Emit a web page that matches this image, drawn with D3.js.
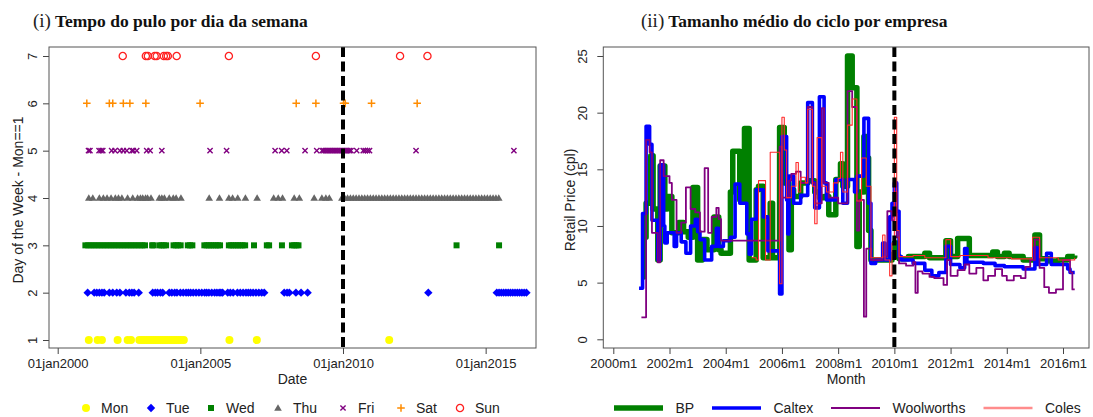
<!DOCTYPE html>
<html><head><meta charset="utf-8">
<script src="https://cdn.jsdelivr.net/npm/d3@7"></script>
<style>
body{margin:0;background:#fff}
svg{display:block;background:#fff}
text{font-family:"Liberation Sans",Arial,Helvetica,sans-serif;fill:#222}
</style></head><body>
<svg id="c" width="1093" height="417"></svg>
<script>
// ---------------- DATA: panel (i) ----------------
const dayNames = ["Mon","Tue","Wed","Thu","Fri","Sat","Sun"];
const dayTicks = [1,2,3,4,5,6,7];
const dateTicks = [2000,2005,2010,2015];
const dateTickLabels = ["01jan2000","01jan2005","01jan2010","01jan2015"];
const breakYear = 2010;

const monDates = [2001.09,2001.40,2001.55,2002.10,2002.45,2002.57,2002.86,2002.95,2003.03,2003.12,2003.20,2003.28,2003.36,2003.44,2003.52,2003.60,2003.68,2003.76,2003.84,2003.92,2004.00,2004.08,2004.16,2004.24,2004.32,2004.42,2006.02,2006.98,2011.62];
const tueDates = [2001.05,2001.28,2001.37,2001.46,2001.55,2001.63,2001.81,2001.93,2002.07,2002.18,2002.39,2002.51,2002.60,2002.68,2002.84,2003.33,2003.42,2003.50,2003.60,2003.68,2003.91,2004.00,2004.10,2004.18,2004.30,2004.40,2004.50,2004.58,2004.66,2004.75,2004.85,2004.95,2005.05,2005.15,2005.22,2005.30,2005.40,2005.50,2005.58,2005.66,2005.72,2005.78,2005.96,2006.05,2006.15,2006.30,2006.40,2006.50,2006.60,2006.68,2006.76,2006.85,2006.95,2007.05,2007.15,2007.24,2007.94,2008.04,2008.12,2008.35,2008.53,2008.76,2012.99,2015.39,2015.47,2015.55,2015.63,2015.71,2015.79,2015.87,2015.95,2016.03,2016.11,2016.19,2016.27,2016.35,2016.43];
const wedDates = [2000.97,2001.07,2001.17,2001.27,2001.37,2001.47,2001.57,2001.67,2001.77,2001.87,2001.97,2002.07,2002.17,2002.27,2002.37,2002.47,2002.57,2002.67,2002.77,2002.87,2002.97,2003.06,2003.31,2003.35,2003.56,2003.64,2003.72,2003.80,2004.06,2004.14,2004.22,2004.31,2004.56,2004.64,2004.72,2005.14,2005.22,2005.30,2005.38,2005.46,2005.54,2005.62,2005.69,2006.00,2006.08,2006.16,2006.24,2006.32,2006.40,2006.48,2006.57,2006.88,2007.33,2007.41,2007.86,2008.21,2008.29,2008.37,2008.44,2013.98,2015.47];
const thuDates = [2001.09,2001.23,2001.46,2001.60,2001.73,2001.87,2002.02,2002.13,2002.25,2002.45,2002.63,2002.80,2002.90,2002.98,2003.08,2003.15,2003.27,2003.56,2003.65,2003.74,2003.91,2004.05,2004.15,2004.32,2005.31,2005.67,2006.00,2006.13,2006.31,2006.58,2006.99,2007.57,2007.73,2007.88,2008.29,2008.47,2008.99,2009.26,2009.40,2009.52,
 2009.96,2010.06,2010.16,2010.26,2010.36,2010.46,2010.56,2010.66,2010.76,2010.86,2010.96,2011.06,2011.16,2011.26,2011.36,2011.46,2011.56,2011.66,2011.76,2011.86,2011.96,2012.06,2012.16,2012.26,2012.36,2012.46,2012.56,2012.66,2012.76,2012.86,2012.96,2013.06,2013.16,2013.26,2013.36,2013.46,2013.56,2013.66,2013.76,2013.86,2013.96,2014.06,2014.16,2014.26,2014.36,2014.46,2014.56,2014.66,2014.76,2014.86,2014.96,2015.06,2015.16,2015.26,2015.36,2015.46];
const friDates = [2001.08,2001.13,2001.45,2001.52,2001.58,2001.89,2002.01,2002.18,2002.30,2002.42,2002.60,2002.65,2002.77,2003.12,2003.24,2003.65,2005.34,2005.92,2007.62,2007.85,2008.03,2008.67,2009.08,2009.27,2009.33,2009.39,2009.45,2009.51,2009.57,2009.63,2009.69,2009.75,2009.81,2009.87,2009.93,2009.99,2010.05,2010.11,2010.17,2010.23,2010.28,2010.48,2010.71,2010.78,2010.86,2010.93,2012.56,2015.99];
const satDates = [2001.02,2001.81,2001.93,2002.30,2002.53,2003.09,2004.99,2008.36,2009.05,2010.02,2010.08,2011.00,2012.60];
const sunDates = [2002.28,2003.09,2003.16,2003.40,2003.47,2003.72,2003.80,2003.86,2004.17,2006.00,2009.05,2012.00,2012.96];

// ---------------- DATA: panel (ii) (month index: 0 = 2000m1), step changes ----------------
const monthTicks = [0,24,48,72,96,120,144,168,192];
const monthTickLabels = ["2000m1","2002m1","2004m1","2006m1","2008m1","2010m1","2012m1","2014m1","2016m1"];
const priceTicks = [0,5,10,15,20,25];
const breakMonth = 120;
const seriesNames = ["BP","Caltex","Woolworths","Coles"];

const bpSteps = [[12,5.5],[13,9.0],[14,12.0],[16,16.2],[17,11.5],[19,7.0],[20,15.3],[22,11.5],[23,12.6],[25,9.4],[28,10.3],[30,9.5],[32,9.0],[34,13.4],[36,7.0],[38,8.8],[40,7.9],[43,10.8],[45,7.9],[46,7.6],[50,13.0],[51,16.6],[54,12.3],[56,18.6],[58,7.0],[61,13.2],[62,13.5],[64,7.2],[67,12.0],[68,7.2],[71,18.7],[73,13.8],[75,7.9],[76,13.2],[77,12.6],[80,13.8],[83,14.0],[86,13.0],[88,12.5],[90,12.6],[92,11.0],[95,14.1],[97,15.5],[98,13.5],[100,25.0],[102,22.2],[104,8.2],[105,13.0],[107,17.9],[108,16.0],[109,9.6],[110,7.0],[119,7.5],[120,8.5],[121,7.3],[122,7.1],[126,7.3],[133,7.6],[135,7.2],[142,8.7],[144,7.3],[147,8.9],[152,7.4],[162,7.7],[164,7.3],[167,7.6],[169,7.3],[175,7.0],[180,9.2],[182,7.1],[186,6.9],[190,7.0],[194,7.3],[197,7.4]];
const caltexSteps = [[11,4.5],[12.5,11.1],[14,18.8],[15.5,17.2],[16.5,10.5],[19,7.0],[20,15.4],[21.5,10.0],[22,8.5],[23,9.4],[26,8.2],[27,9.4],[29,8.6],[31,7.6],[33,10.0],[35,10.6],[36,9.5],[37,8.8],[39,7.0],[42,8.2],[44,9.8],[45,8.2],[47,8.7],[50,9.0],[52,13.7],[54,12.0],[57,9.3],[58,7.5],[59,10.6],[61,13.2],[64,10.8],[66,7.8],[71,4.0],[72,17.9],[74,12.3],[74.5,9.3],[75,14.4],[77,12.0],[80,12.7],[83,20.9],[85,13.8],[86,11.6],[88,21.4],[90,13.8],[91,12.3],[95,14.1],[98,12.0],[100,14.1],[103,13.0],[104,14.4],[107,19.5],[109,12.0],[110,6.7],[112,7.0],[115,8.5],[116,7.0],[118,10.8],[119,12.0],[120,13.8],[121,11.3],[122,7.3],[123,7.0],[128,6.7],[133,6.1],[136,5.6],[139,5.9],[142,8.2],[144,6.6],[148,6.3],[150,8.0],[151,6.8],[158,6.7],[163,6.5],[167,6.4],[175,6.2],[180,8.1],[181,6.6],[185,7.6],[187,6.6],[194,6.2],[195,5.9],[197,5.9]];
const woolworthsSteps = [[12,1.94],[14,17.6],[15.5,16.5],[16.5,9.4],[19,6.8],[20,15.8],[21.5,14.4],[24,13.8],[25,12.3],[27,9.4],[29,10.3],[31,13.4],[33,11.5],[35,11.2],[37,9.5],[39,15.1],[40.5,9.4],[42,10.8],[44,11.6],[45,10.6],[46,8.7],[71,17.0],[72,12.5],[75,14.0],[76,14.6],[78,14.8],[80,13.8],[83,20.5],[85,13.8],[86,12.0],[89,20.4],[90,13.8],[92,12.5],[96,12.0],[100,21.9],[102,20.5],[104,9.6],[105,12.3],[107,2.0],[108,8.0],[110,7.0],[115,7.3],[117,11.3],[119,10.5],[120,13.0],[121,9.0],[122,6.7],[125,6.5],[128,6.8],[129,4.1],[130,6.0],[132,5.8],[135,5.5],[137,5.4],[141,4.8],[142.5,7.0],[144,5.6],[147,6.1],[150,6.6],[152,5.8],[155,6.3],[158,5.2],[160,5.6],[163,6.2],[166,5.6],[168,5.2],[171,5.6],[174,5.4],[176,6.4],[178,7.0],[180,8.8],[182,6.3],[184,4.6],[186,4.1],[189,4.4],[192,7.0],[195,5.9],[196,4.4],[197,4.4]];
const colesSteps = [[59,7.2],[61,7.0],[62,14.0],[65,7.0],[67,16.5],[71,4.9],[72,19.6],[73,16.7],[74,12.5],[76,13.5],[78,15.6],[79,13.0],[80,14.3],[82,13.8],[83,20.3],[85,13.5],[86,10.2],[87,17.8],[89,13.5],[91,13.0],[94,13.8],[96,14.2],[97,16.5],[98,13.0],[100,18.9],[102,21.2],[104,12.2],[106,16.0],[108,13.5],[110,7.2],[115,9.2],[116,7.0],[118,5.6],[119,8.5],[120,19.6],[121,9.6],[122,7.3],[128,7.4],[133,7.2],[142,8.8],[144,7.3],[148,7.4],[160,7.2],[170,7.1],[179,9.0],[182,7.2],[190,7.0],[197,7.2]];

// ---------------- DRAW ----------------
const svg = d3.select("#c");
const serif = '"Liberation Serif","Times New Roman",serif';

function title(x, roman, txt){
  const t = svg.append("text").attr("x",x).attr("y",27).style("font-family",serif);
  t.append("tspan").text(roman).style("font-size","19px").style("fill","#222");
  t.append("tspan").attr("dx",4).text(txt).style("font-size","17.5px").style("font-weight","bold").style("fill","#111");
}
title(33,"(i)","Tempo do pulo por dia da semana");
title(641,"(ii)","Tamanho médio do ciclo por empresa");

// ---- panel (i)
const L = {x0:49, x1:536, y0:47, y1:348};
const xL = d3.scaleLinear().domain([1999.695, 2016.765]).range([L.x0, L.x1]);
const yL = d3.scaleLinear().domain([1, 7]).range([340, 56]);

const gL = svg.append("g");
const axL = gL.append("g").attr("transform",`translate(0,${L.y1})`)
  .call(d3.axisBottom(xL).tickValues(dateTicks).tickFormat((d,i)=>dateTickLabels[i]).tickSize(6).tickPadding(5));
const ayL = gL.append("g").attr("transform",`translate(${L.x0},0)`)
  .call(d3.axisLeft(yL).tickValues(dayTicks).tickFormat(d3.format("d")).tickSize(6));
[axL, ayL].forEach(a=>{a.select(".domain").remove(); a.selectAll("line").attr("stroke","#444");
  a.selectAll("text").style("font-size","13px").style("font-family",'"Liberation Sans",Arial,sans-serif').attr("fill","#222");});
ayL.selectAll("text").attr("x",0).attr("y",-12).attr("dy",0).attr("transform","rotate(-90)").style("text-anchor","middle");

const markers = {
  Mon: {draw:(g)=>g.append("circle").attr("r",4).attr("fill","#ffff00")},
  Tue: {draw:(g)=>g.append("path").attr("d","M0,-4.2L4.2,0L0,4.2L-4.2,0Z").attr("fill","#0000ff")},
  Wed: {draw:(g)=>g.append("path").attr("d","M-3,-3h6v6h-6Z").attr("fill","#008000")},
  Thu: {draw:(g)=>g.append("path").attr("d","M0,-3.8L3.8,2.8L-3.8,2.8Z").attr("fill","#666666")},
  Fri: {draw:(g)=>g.append("path").attr("d","M-2.6,-2.6L2.6,2.6M-2.6,2.6L2.6,-2.6").attr("stroke","#800080").attr("stroke-width",1.4).attr("fill","none")},
  Sat: {draw:(g)=>g.append("path").attr("d","M-3.8,0H3.8M0,-3.8V3.8").attr("stroke","#ff8c00").attr("stroke-width",1.5).attr("fill","none")},
  Sun: {draw:(g)=>g.append("circle").attr("r",3.6).attr("fill","none").attr("stroke","#ff2020").attr("stroke-width",1.3)}
};
const dayData = [monDates,tueDates,wedDates,thuDates,friDates,satDates,sunDates];
dayData.forEach((arr,i)=>{
  const name = dayNames[i];
  arr.forEach(dv=>{
    const g = gL.append("g").attr("transform",`translate(${xL(dv)},${yL(i+1)})`);
    markers[name].draw(g);
  });
});
gL.append("line").attr("x1",xL(breakYear)).attr("x2",xL(breakYear)).attr("y1",L.y0).attr("y2",L.y1)
  .attr("stroke","#000").attr("stroke-width",4).attr("stroke-dasharray","10,4.5");
gL.append("rect").attr("x",L.x0).attr("y",L.y0).attr("width",L.x1-L.x0).attr("height",L.y1-L.y0)
  .attr("fill","none").attr("stroke","#555").attr("stroke-width",1);
gL.append("text").attr("x",(L.x0+L.x1)/2).attr("y",384).attr("text-anchor","middle").style("font-size","14px").text("Date");
gL.append("text").attr("transform",`translate(23,200) rotate(-90)`).attr("text-anchor","middle").style("font-size","14px").text("Day of the Week - Mon==1");

const legL = [86,151,211,278,343,401,460];
dayNames.forEach((n,i)=>{
  const g = gL.append("g").attr("transform",`translate(${legL[i]},408)`);
  markers[n].draw(g);
  gL.append("text").attr("x",legL[i]+15).attr("y",413).style("font-size","14px").text(n);
});

// ---- panel (ii)
const R = {x0:603.3, x1:1089, y0:47, y1:348};
const xR = d3.scaleLinear().domain([0,192]).range([613.3,1063]);
const yR = d3.scaleLinear().domain([0,25]).range([339.3,56]);
const gR = svg.append("g");
const axR = gR.append("g").attr("transform",`translate(0,${R.y1})`)
  .call(d3.axisBottom(xR).tickValues(monthTicks).tickFormat((d,i)=>monthTickLabels[i]).tickSize(6).tickPadding(5));
const ayR = gR.append("g").attr("transform",`translate(${R.x0},0)`)
  .call(d3.axisLeft(yR).tickValues(priceTicks).tickFormat(d3.format("d")).tickSize(6));
[axR, ayR].forEach(a=>{a.select(".domain").remove(); a.selectAll("line").attr("stroke","#444");
  a.selectAll("text").style("font-size","13px").style("font-family",'"Liberation Sans",Arial,sans-serif').attr("fill","#222");});
ayR.selectAll("text").attr("x",0).attr("y",-16).attr("dy",0).attr("transform","rotate(-90)").style("text-anchor","middle");

const line = d3.line().x(d=>xR(d[0])).y(d=>yR(d[1])).curve(d3.curveStepAfter);
const styles = [
  {data:bpSteps, color:"#008000", w:5.5, lw:5.5},
  {data:caltexSteps, color:"#0000ff", w:3.6, lw:3.4},
  {data:woolworthsSteps, color:"#800080", w:1.8, lw:1.8},
  {data:colesSteps, color:"#ff2a2a", w:1.1, lw:2.4, legColor:"#ff8c8c"}
];
const clipId = "clipR";
svg.append("defs").append("clipPath").attr("id",clipId).append("rect")
  .attr("x",R.x0).attr("y",R.y0).attr("width",R.x1-R.x0).attr("height",R.y1-R.y0);
const gLines = gR.append("g").attr("clip-path",`url(#${clipId})`);
styles.forEach(s=>{
  gLines.append("path").attr("d",line(s.data)).attr("fill","none").attr("stroke",s.color)
    .attr("stroke-width",s.w).attr("stroke-linejoin","round");
});
gR.append("line").attr("x1",xR(breakMonth)).attr("x2",xR(breakMonth)).attr("y1",R.y0).attr("y2",R.y1)
  .attr("stroke","#000").attr("stroke-width",4).attr("stroke-dasharray","10,4.5");
gR.append("rect").attr("x",R.x0).attr("y",R.y0).attr("width",R.x1-R.x0).attr("height",R.y1-R.y0)
  .attr("fill","none").attr("stroke","#555").attr("stroke-width",1);
gR.append("text").attr("x",(R.x0+R.x1)/2).attr("y",384).attr("text-anchor","middle").style("font-size","14px").text("Month");
gR.append("text").attr("transform",`translate(575,200) rotate(-90)`).attr("text-anchor","middle").style("font-size","14px").text("Retail Price (cpl)");

const legR = [[614,663,675.5],[712,761,773.5],[831,880,892.5],[983.5,1032.5,1045]];
seriesNames.forEach((n,i)=>{
  const s = styles[i];
  gR.append("line").attr("x1",legR[i][0]).attr("x2",legR[i][1]).attr("y1",408).attr("y2",408)
    .attr("stroke",s.legColor||s.color).attr("stroke-width",s.lw);
  gR.append("text").attr("x",legR[i][2]).attr("y",413).style("font-size","14px").text(n);
});
</script>
</body></html>
